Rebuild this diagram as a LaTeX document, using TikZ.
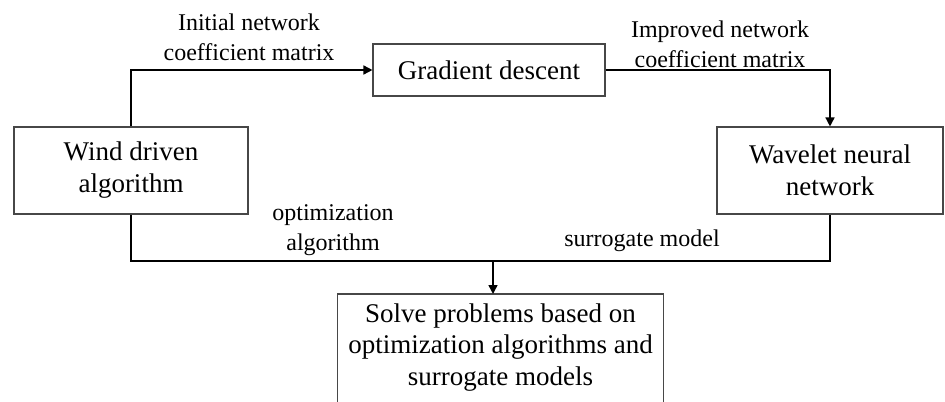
\documentclass[tikz,border=0pt]{standalone}
\usepackage{fontspec}
\setmainfont{Liberation Serif}
\usetikzlibrary{arrows.meta}
\begin{document}
\begin{tikzpicture}[x=0.5pt,y=-0.5pt,
  box/.style={draw=black!72,line width=0.55pt,inner sep=0pt,align=center,
    font=\fontsize{13.5pt}{16pt}\selectfont},
  boxline/.style={draw=black!72,line width=0.55pt},
  lbl/.style={inner sep=0pt,align=center,font=\fontsize{12pt}{15pt}\selectfont},
  conn/.style={draw=black,line width=0.75pt},
  arr/.style={conn,-{Triangle[length=4.5pt,width=4.5pt]}}]
\useasboundingbox (0,0) rectangle (945,401);
\clip (0,0) rectangle (945,401);
% boxes
\node[box,minimum width=117pt,minimum height=43.5pt] (wind) at (131,170.5) {Wind driven\\algorithm};
\node[box,minimum width=116pt,minimum height=26pt] (grad) at (489,70) {Gradient descent};
\node[box,minimum width=113pt,minimum height=43.5pt] (wave) at (830,170.5) {Wavelet neural\\network};
\node[inner sep=0pt,align=center,minimum width=162.5pt,minimum height=53pt,anchor=north,
  font=\fontsize{13.5pt}{15.75pt}\selectfont] (solve) at (500.5,294)
  {Solve problems based on\\optimization algorithms and\\surrogate models};
\draw[boxline] (solve.north west |- 0,430) -- (solve.north west) -- (solve.north east) -- (solve.north east |- 0,430);
% labels
\node[lbl] (l1) at (249,37) {Initial network\\coefficient matrix};
\node[lbl] (l2) at (720,44) {Improved network\\coefficient matrix};
\node[lbl] (l3) at (333,230.5) {optimization\\algorithm};
\node[lbl] (l4) at (642,240.3) {surrogate model};
% connectors
\coordinate (m) at (493,261);
\draw[arr] (wind.north) |- (grad.west);
\draw[arr] (grad.east) -| (wave.north);
\draw[conn] (wind.south) |- (m) -| (wave.south);
\draw[arr] (m) -- (m |- solve.north);
\end{tikzpicture}
\end{document}
